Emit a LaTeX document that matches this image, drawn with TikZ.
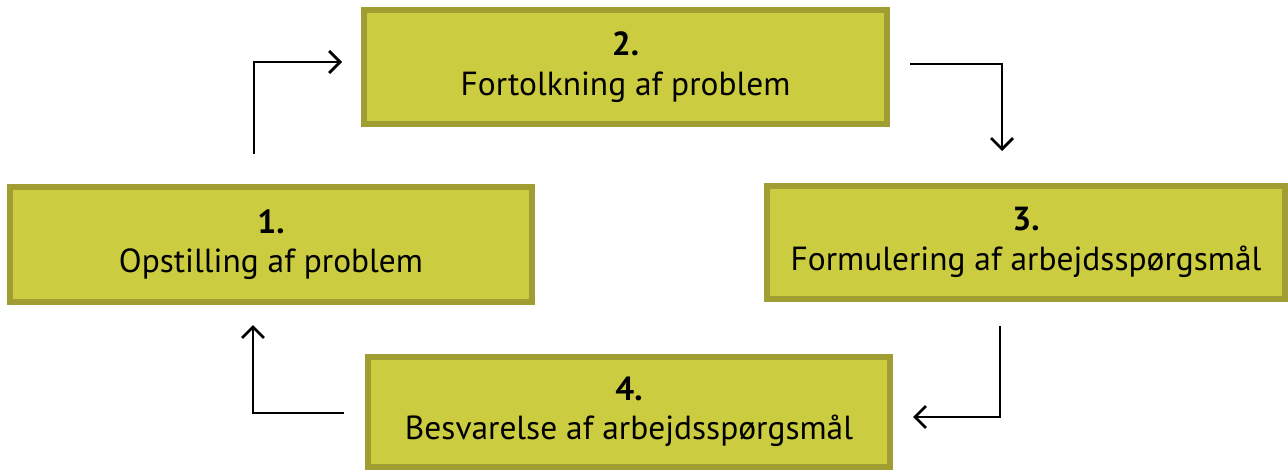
\documentclass[tikz,border=0pt]{standalone}
\usepackage{fontspec}
\setmainfont{PT Sans}
\usetikzlibrary{arrows.meta}
\definecolor{boxfill}{RGB}{204,204,64}
\definecolor{boxline}{RGB}{160,158,50}
\tikzset{
  stepbox/.style={rectangle, draw=boxline, fill=boxfill, line width=6pt,
    align=center, inner sep=0pt, font=\fontsize{33.4}{39.5}\selectfont},
  flow/.style={line width=2.8pt, -{Straight Barb[length=11pt,width=22pt,line width=2.8pt]}}
}
\begin{document}
\begin{tikzpicture}[x=1pt,y=-1pt]
\useasboundingbox (0,0) rectangle (1288,472);
\node[stepbox, minimum width=522pt, minimum height=115pt] (b1) at (271,244.5) {\textbf{1.}\\Opstilling af problem};
\node[stepbox, minimum width=523pt, minimum height=114pt] (b2) at (625.5,67) {\textbf{2.}\\Fortolkning af problem};
\node[stepbox, minimum width=518pt, minimum height=113pt] (b3) at (1026,242.5) {\textbf{3.}\\Formulering af arbejdsspørgsmål};
\node[stepbox, minimum width=522pt, minimum height=110pt] (b4) at (629,412) {\textbf{4.}\\Besvarelse af arbejdsspørgsmål};
\coordinate (a1s) at (254,154);
\coordinate (a1e) at (342,62);
\coordinate (a2s) at (910,64);
\coordinate (a2e) at (1002,151);
\coordinate (a3s) at (1000,326);
\coordinate (a3e) at (913,417);
\coordinate (a4s) at (344,413);
\coordinate (a4e) at (253,325);
\draw[flow] (a1s) |- (a1e);
\draw[flow] (a2s) -| (a2e);
\draw[flow] (a3s) |- (a3e);
\draw[flow] (a4s) -| (a4e);
\end{tikzpicture}
\end{document}
